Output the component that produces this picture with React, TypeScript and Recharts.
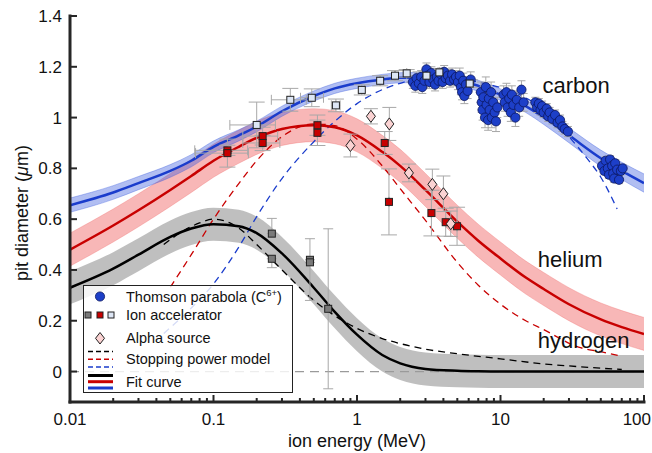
import React from "react";
import {
  ComposedChart,
  XAxis,
  YAxis,
  Line,
  Area,
  Scatter,
  ErrorBar,
  ReferenceLine,
  ReferenceDot,
  Legend,
} from "recharts";

const FONT = '"Liberation Sans", Arial, Helvetica, sans-serif';
const AX = "#262626";
const BLUE = "#1a3ccc";
const RED = "#c80000";
const ERR = "#a8a8a8";

// fit curves, sampled at these energies (MeV)
const energies = [0.01, 0.02, 0.03, 0.05, 0.07, 0.1, 0.15, 0.2, 0.3, 0.5, 0.7, 1, 1.5, 2, 3, 5, 7, 10, 15, 20, 30, 50, 70, 100];
const carbonFit = [0.655, 0.705, 0.742, 0.79, 0.83, 0.885, 0.93, 0.965, 1.025, 1.085, 1.115, 1.135, 1.15, 1.157, 1.158, 1.148, 1.125, 1.09, 1.045, 1.0, 0.93, 0.84, 0.79, 0.742];
const carbonHalf = [0.028, 0.027, 0.026, 0.025, 0.024, 0.023, 0.022, 0.021, 0.02, 0.02, 0.02, 0.02, 0.02, 0.02, 0.02, 0.021, 0.022, 0.023, 0.025, 0.027, 0.029, 0.032, 0.034, 0.036];
const heliumFit = [0.48, 0.575, 0.635, 0.715, 0.77, 0.83, 0.885, 0.92, 0.955, 0.97, 0.962, 0.93, 0.865, 0.81, 0.715, 0.59, 0.515, 0.445, 0.37, 0.325, 0.265, 0.205, 0.175, 0.148];
const heliumHalf = [0.065, 0.065, 0.065, 0.065, 0.065, 0.065, 0.065, 0.065, 0.065, 0.065, 0.065, 0.065, 0.065, 0.065, 0.065, 0.065, 0.065, 0.065, 0.065, 0.065, 0.065, 0.065, 0.065, 0.065];
const hydrogenFit = [0.33, 0.405, 0.46, 0.53, 0.563, 0.58, 0.572, 0.545, 0.465, 0.33, 0.235, 0.145, 0.065, 0.032, 0.01, 0.003, 0.001, 0, 0, 0, 0, 0, 0, 0];
const hydrogenHalf = [0.065, 0.065, 0.065, 0.065, 0.065, 0.065, 0.065, 0.065, 0.065, 0.065, 0.065, 0.065, 0.065, 0.065, 0.065, 0.065, 0.065, 0.065, 0.065, 0.065, 0.065, 0.065, 0.065, 0.065];

// stopping power model
const hModelE = [0.045, 0.06, 0.08, 0.1, 0.13, 0.15, 0.2, 0.3, 0.5, 0.7, 1, 1.5, 2, 3, 5, 10, 20, 30, 50, 70];
const hModelV = [0.5, 0.55, 0.585, 0.6, 0.585, 0.565, 0.5, 0.4, 0.28, 0.22, 0.17, 0.13, 0.11, 0.088, 0.07, 0.05, 0.03, 0.022, 0.013, 0.008];
const heModelE = [0.05, 0.07, 0.1, 0.15, 0.2, 0.3, 0.5, 0.7, 1, 1.5, 2, 3, 5, 7, 10, 15, 20, 35, 50, 70];
const heModelV = [0.332, 0.46, 0.6, 0.74, 0.83, 0.925, 0.975, 0.968, 0.915, 0.81, 0.72, 0.595, 0.43, 0.34, 0.265, 0.2, 0.165, 0.096, 0.078, 0.06];
const cModelE = [0.045, 0.07, 0.1, 0.15, 0.2, 0.3, 0.5, 0.7, 1, 1.5, 2, 3, 5, 7, 10, 15, 20, 30, 40, 50, 65];
const cModelV = [0.15, 0.25, 0.345, 0.49, 0.61, 0.76, 0.905, 0.985, 1.055, 1.11, 1.135, 1.155, 1.155, 1.14, 1.118, 1.078, 1.03, 0.925, 0.84, 0.765, 0.64];

// Thomson parabola (C6+) clusters [E, d]
const tpCluster1 = [[2.45, 1.14], [2.55, 1.125], [2.6, 1.155], [2.7, 1.135], [2.8, 1.16], [2.85, 1.12], [2.95, 1.145], [3.05, 1.19], [3.1, 1.165], [3.2, 1.14], [3.3, 1.175], [3.4, 1.15], [3.5, 1.13], [3.6, 1.16], [3.7, 1.145], [3.85, 1.17], [3.95, 1.14], [4.05, 1.18], [4.15, 1.155], [4.3, 1.165], [4.45, 1.145], [4.6, 1.17], [4.75, 1.15], [4.9, 1.16]];
const tpCluster2 = [[5.05, 1.14], [5.2, 1.165], [5.3, 1.12], [5.4, 1.1], [5.5, 1.145], [5.6, 1.085], [5.75, 1.13], [5.9, 1.105], [6.2, 1.15]];
const tpCluster3 = [[7.3, 1.1], [7.4, 1.06], [7.5, 1.03], [7.6, 1.08], [7.8, 1.0], [7.9, 1.12], [8.0, 1.05], [8.2, 0.99], [8.3, 1.075], [8.4, 1.03], [8.6, 1.1], [8.7, 1.0], [8.9, 1.06], [9.1, 1.02], [9.3, 0.985], [9.5, 1.04]];
const tpCluster4 = [[10.5, 1.09], [10.7, 1.06], [11, 1.1], [11.2, 1.04], [11.5, 1.075], [11.8, 1.02], [12, 1.09], [12.3, 1.05], [12.7, 1.0], [13, 1.07], [13.5, 1.04], [14, 1.11], [14.5, 1.06]];
const tpCluster5 = [[17.5, 1.06], [18, 1.04], [18.5, 1.055], [19, 1.03], [19.5, 1.045], [20, 1.02], [21, 1.035], [21.5, 1.005], [22, 1.02], [23, 0.995], [24, 1.01], [25, 0.98], [26, 0.99], [27, 0.965], [28, 0.955], [29.5, 0.945]];
const tpCluster6 = [[51, 0.81], [53, 0.79], [54, 0.83], [56, 0.8], [57, 0.775], [58, 0.835], [60, 0.81], [61, 0.78], [62, 0.76], [63, 0.82], [65, 0.795], [67, 0.755], [69, 0.79], [71, 0.8]];
const tpClusters = [tpCluster1, tpCluster2, tpCluster3, tpCluster4, tpCluster5, tpCluster6];
const tpErrX = [0.25, 0.4, 0.6, 0.8, 1.5, 3];
const tpErrY = [0.025, 0.03, 0.04, 0.035, 0.02, 0.015];

// ion accelerator
const hAccel = [
  { e: 0.255, v: 0.543, ey: [0, 0.06] },
  { e: 0.255, v: 0.444, ey: [0.035, 0] },
  { e: 0.47, v: 0.44, ey: [0, 0.083] },
  { e: 0.47, v: 0.43, ey: [0.15, 0] },
  { e: 0.63, v: 0.247, ey: [0.315, 0.315] },
];
const heAccel = [
  { e: 0.125, v: 0.871, ey: 0.02, ex: [0.051, 0.048] },
  { e: 0.125, v: 0.86, ey: 0.055, ex: [0.05, 0.05] },
  { e: 0.22, v: 0.927, ey: 0.035, ex: [0.06, 0.06] },
  { e: 0.22, v: 0.9, ey: 0.03, ex: [0.06, 0.07] },
  { e: 0.53, v: 0.97, ey: 0.04, ex: [0, 0] },
  { e: 0.53, v: 0.94, ey: 0.05, ex: [0, 0] },
  { e: 1.56, v: 0.9, ey: 0.045, ex: [0, 0] },
  { e: 1.67, v: 0.668, ey: 0.13, ex: [0, 0] },
  { e: 3.3, v: 0.624, ey: 0.09, ex: [0, 0] },
  { e: 4.15, v: 0.588, ey: 0.055, ex: [0, 0] },
  { e: 4.98, v: 0.572, ey: 0.075, ex: [0, 0] },
];
const cAccel = [
  { e: 0.2, v: 0.971, ey: 0.09, ex: [0.07, 0.07] },
  { e: 0.343, v: 1.07, ey: 0.045, ex: [0.09, 0.1] },
  { e: 0.484, v: 1.078, ey: 0.035, ex: [0.08, 0.1] },
  { e: 0.713, v: 1.048, ey: 0.025, ex: [0.05, 0.05] },
  { e: 1.08, v: 1.109, ey: 0.02, ex: [0.05, 0.05] },
  { e: 1.45, v: 1.145, ey: 0.02, ex: [0, 0] },
  { e: 1.84, v: 1.165, ey: 0.02, ex: [0, 0] },
  { e: 2.22, v: 1.174, ey: 0.015, ex: [0, 0] },
  { e: 3.05, v: 1.165, ey: 0.015, ex: [0, 0] },
  { e: 3.75, v: 1.178, ey: 0.015, ex: [0, 0] },
  { e: 6.1, v: 1.134, ey: 0.015, ex: [0, 0] },
];
const alphaSource = [
  { e: 0.9, v: 0.89, ey: 0.045 },
  { e: 1.25, v: 1.005, ey: 0.03 },
  { e: 1.68, v: 0.975, ey: 0.065 },
  { e: 2.3, v: 0.782, ey: 0.035 },
  { e: 3.35, v: 0.737, ey: 0.06 },
  { e: 4.0, v: 0.7, ey: 0.07 },
  { e: 4.5, v: 0.582, ey: 0.05 },
];

const majorTicks = [0.01, 0.1, 1, 10, 100];
const majorLabels = ["0.01", "0.1", "1", "10", "100"];
const minorTicks = [
  0.02, 0.03, 0.04, 0.05, 0.06, 0.07, 0.08, 0.09,
  0.2, 0.3, 0.4, 0.5, 0.6, 0.7, 0.8, 0.9,
  2, 3, 4, 5, 6, 7, 8, 9,
  20, 30, 40, 50, 60, 70, 80, 90,
];
const xTicks = [...majorTicks, ...minorTicks];
const yTicks = [0, 0.2, 0.4, 0.6, 0.8, 1, 1.2, 1.4];
const yLabels = ["0", "0.2", "0.4", "0.6", "0.8", "1", "1.2", "1.4"];

const fitRows = (vals: number[], half: number[]) =>
  energies.map((e, i) => ({ e, v: vals[i], band: [vals[i] - half[i], vals[i] + half[i]] }));
const modelRows = (es: number[], vs: number[]) => es.map((e, i) => ({ e, v: vs[i] }));
const tpRows = tpClusters.flatMap((pts, k) =>
  pts.map(([e, v]) => ({ e, v, ex: tpErrX[k], ey: tpErrY[k] }))
);

function XTick(props: any) {
  const { x, y, payload, side } = props;
  const i = majorTicks.indexOf(payload.value);
  const len = i >= 0 ? 7 : 4;
  const dir = side === "top" ? 1 : -1;
  // the last label sits flush with the right edge of the figure
  const last = i === majorTicks.length - 1;
  return (
    <g>
      <line x1={x} x2={x} y1={y} y2={y + dir * len} stroke={AX} strokeWidth={2} />
      {side !== "top" && i >= 0 && (
        <text
          x={last ? x + 7 : x}
          y={y + 23}
          textAnchor={last ? "end" : "middle"}
          fontSize={17}
          fontFamily={FONT}
          fill="#111"
        >
          {majorLabels[i]}
        </text>
      )}
    </g>
  );
}

function YTick(props: any) {
  const { x, y, payload, side } = props;
  const i = yTicks.indexOf(payload.value);
  const dir = side === "right" ? -1 : 1;
  return (
    <g>
      <line x1={x} x2={x + dir * 7} y1={y} y2={y} stroke={AX} strokeWidth={2} />
      {side !== "right" && (
        <text x={x - 8} y={y + 6} textAnchor="end" fontSize={17} fontFamily={FONT} fill="#111">
          {yLabels[i]}
        </text>
      )}
    </g>
  );
}

function YTitle(props: any) {
  const vb = props.viewBox;
  const cx = vb.x + 12;
  const cy = vb.y + vb.height / 2 + 4;
  return (
    <text x={cx} y={cy} transform={`rotate(-90 ${cx} ${cy})`} textAnchor="middle" dominantBaseline="central" fontSize={18} fontFamily={FONT} fill="#111">
      pit diameter (<tspan fontStyle="italic">μ</tspan>m)
    </text>
  );
}

function XTitle(props: any) {
  const vb = props.viewBox;
  return (
    <text x={vb.x + vb.width / 2} y={vb.y + 45} textAnchor="middle" fontSize={18} fontFamily={FONT} fill="#111">
      ion energy (MeV)
    </text>
  );
}

const square = (fill: string) => (p: any) => (
  <rect x={p.cx - 3.5} y={p.cy - 3.5} width={7} height={7} fill={fill} stroke="#222" strokeWidth={1} />
);
const diamond = (p: any) => (
  <polygon
    points={`${p.cx},${p.cy - 6} ${p.cx + 4.5},${p.cy} ${p.cx},${p.cy + 6} ${p.cx - 4.5},${p.cy}`}
    fill="#fbd3d3"
    stroke="#222"
    strokeWidth={1}
  />
);
const circle = (p: any) => (
  <circle cx={p.cx} cy={p.cy} r={4.6} fill="#1d3fc8" stroke="#0b1760" strokeWidth={0.8} />
);
const curveLabel = (text: string) => (p: any) => (
  <text x={p.cx} y={p.cy} fontSize={22} fontFamily={FONT} fill="#111">
    {text}
  </text>
);

function LegendBox() {
  const t = { fontSize: 14.5, fontFamily: FONT, fill: "#111" } as const;
  return (
    <svg width={210} height={109} style={{ display: "block" }}>
      <rect x={0.5} y={0.5} width={209} height={107} fill="#fff" fillOpacity={0.82} stroke="#222" strokeWidth={1} />
      <circle cx={17} cy={11.5} r={4.6} fill="#1d3fc8" stroke="#0b1760" strokeWidth={0.8} />
      <text x={43} y={16.5} {...t}>
        Thomson parabola (C<tspan fontSize={9.5} dy={-6}>6+</tspan>
        <tspan dy={6}>)</tspan>
      </text>
      <rect x={2} y={27} width={6} height={6} fill="#7a7a7a" stroke="#222" />
      <rect x={14} y={27} width={6} height={6} fill={RED} stroke="#222" />
      <rect x={25} y={27} width={6} height={6} fill="#dde6f5" stroke="#222" />
      <text x={43} y={35} {...t}>Ion accelerator</text>
      <polygon points="17,47.5 21.5,53.3 17,59 12.5,53.3" fill="#fbd3d3" stroke="#222" />
      <text x={43} y={58.3} {...t}>Alpha source</text>
      <line x1={5} x2={30} y1={66.5} y2={66.5} stroke="#000" strokeWidth={1.4} strokeDasharray="5 3" />
      <line x1={5} x2={30} y1={74.3} y2={74.3} stroke={RED} strokeWidth={1.4} strokeDasharray="5 3" />
      <line x1={5} x2={30} y1={82} y2={82} stroke={BLUE} strokeWidth={1.4} strokeDasharray="5 3" />
      <text x={43} y={79.3} {...t}>Stopping power model</text>
      <line x1={5} x2={30} y1={90.5} y2={90.5} stroke="#000" strokeWidth={3} />
      <line x1={5} x2={30} y1={96.7} y2={96.7} stroke={RED} strokeWidth={3} />
      <line x1={5} x2={30} y1={103} y2={103} stroke={BLUE} strokeWidth={3} />
      <text x={43} y={101.7} {...t}>Fit curve</text>
    </svg>
  );
}

export default function App() {
  const axisLine = { stroke: AX, strokeWidth: 3, strokeLinecap: "square" as const };
  return (
    <div style={{ position: "absolute", left: 0, top: 0, width: 652, height: 453, background: "#fff" }}>
      <ComposedChart width={652} height={453} margin={{ top: 16, right: 8, bottom: 0, left: 10 }}>
        <XAxis
          dataKey="e"
          type="number"
          scale="log"
          domain={[0.01, 100]}
          allowDataOverflow
          ticks={xTicks}
          interval={0}
          tickSize={0}
          tickMargin={0}
          tickLine={false}
          tick={<XTick side="bottom" />}
          axisLine={axisLine}
          height={51}
          label={<XTitle />}
        />
        <XAxis
          xAxisId="top"
          orientation="top"
          dataKey="e"
          type="number"
          scale="log"
          domain={[0.01, 100]}
          allowDataOverflow
          ticks={xTicks}
          interval={0}
          tickSize={0}
          tickMargin={0}
          tickLine={false}
          tick={<XTick side="top" />}
          axisLine={axisLine}
          height={0}
        />
        <YAxis
          type="number"
          domain={[-0.12, 1.4]}
          allowDataOverflow
          ticks={yTicks}
          interval={0}
          tickSize={0}
          tickMargin={0}
          tickLine={false}
          tick={<YTick side="left" />}
          axisLine={axisLine}
          width={60}
          label={<YTitle />}
        />
        <YAxis
          yAxisId="right"
          orientation="right"
          type="number"
          domain={[-0.12, 1.4]}
          allowDataOverflow
          ticks={yTicks}
          interval={0}
          tickSize={0}
          tickMargin={0}
          tickLine={false}
          tick={<YTick side="right" />}
          axisLine={axisLine}
          width={0}
        />

        <Area data={fitRows(hydrogenFit, hydrogenHalf)} dataKey="band" type="monotone" fill="#808080" fillOpacity={0.5} stroke="none" isAnimationActive={false} />
        <Area data={fitRows(heliumFit, heliumHalf)} dataKey="band" type="monotone" fill="#f06060" fillOpacity={0.45} stroke="#f06060" strokeOpacity={0.3} isAnimationActive={false} />
        <Area data={fitRows(carbonFit, carbonHalf)} dataKey="band" type="monotone" fill="#3355dd" fillOpacity={0.38} stroke="#3355dd" strokeOpacity={0.35} isAnimationActive={false} />

        <ReferenceLine y={0} stroke="#9a9a9a" strokeWidth={1.3} strokeDasharray="9 6" />

        <Line data={modelRows(hModelE, hModelV)} dataKey="v" type="monotone" stroke="#000" strokeWidth={1.3} strokeDasharray="7 5" dot={false} isAnimationActive={false} />
        <Line data={modelRows(heModelE, heModelV)} dataKey="v" type="monotone" stroke={RED} strokeWidth={1.3} strokeDasharray="7 5" dot={false} isAnimationActive={false} />
        <Line data={modelRows(cModelE, cModelV)} dataKey="v" type="monotone" stroke={BLUE} strokeWidth={1.3} strokeDasharray="7 5" dot={false} isAnimationActive={false} />

        <Line data={fitRows(hydrogenFit, hydrogenHalf)} dataKey="v" type="monotone" stroke="#000" strokeWidth={2.5} dot={false} isAnimationActive={false} />
        <Line data={fitRows(heliumFit, heliumHalf)} dataKey="v" type="monotone" stroke={RED} strokeWidth={2.5} dot={false} isAnimationActive={false} />
        <Line data={fitRows(carbonFit, carbonHalf)} dataKey="v" type="monotone" stroke={BLUE} strokeWidth={2.5} dot={false} isAnimationActive={false} />

        <Scatter data={tpRows} dataKey="v" shape={circle} isAnimationActive={false}>
          <ErrorBar dataKey="ex" direction="x" width={0} stroke={ERR} strokeWidth={1} />
          <ErrorBar dataKey="ey" direction="y" width={4} stroke={ERR} strokeWidth={1} />
        </Scatter>
        <Scatter data={hAccel} dataKey="v" shape={square("#7a7a7a")} isAnimationActive={false}>
          <ErrorBar dataKey="ey" direction="y" width={5} stroke={ERR} strokeWidth={1} />
        </Scatter>
        <Scatter data={heAccel} dataKey="v" shape={square(RED)} isAnimationActive={false}>
          <ErrorBar dataKey="ex" direction="x" width={5} stroke={ERR} strokeWidth={1} />
          <ErrorBar dataKey="ey" direction="y" width={8} stroke={ERR} strokeWidth={1} />
        </Scatter>
        <Scatter data={cAccel} dataKey="v" shape={square("#dde6f5")} isAnimationActive={false}>
          <ErrorBar dataKey="ex" direction="x" width={5} stroke={ERR} strokeWidth={1} />
          <ErrorBar dataKey="ey" direction="y" width={8} stroke={ERR} strokeWidth={1} />
        </Scatter>
        <Scatter data={alphaSource} dataKey="v" shape={diamond} isAnimationActive={false}>
          <ErrorBar dataKey="ey" direction="y" width={7} stroke={ERR} strokeWidth={1} />
        </Scatter>

        <ReferenceDot x={19.6} y={1.095} r={0} shape={curveLabel("carbon")} />
        <ReferenceDot x={18.2} y={0.41} r={0} shape={curveLabel("helium")} />
        <ReferenceDot x={18.2} y={0.091} r={0} shape={curveLabel("hydrogen")} />

        <Legend
          layout="horizontal"
          verticalAlign="middle"
          align="center"
          content={() => <LegendBox />}
          wrapperStyle={{ left: 83, top: 285, width: 210, height: 109 }}
        />
      </ComposedChart>
    </div>
  );
}
